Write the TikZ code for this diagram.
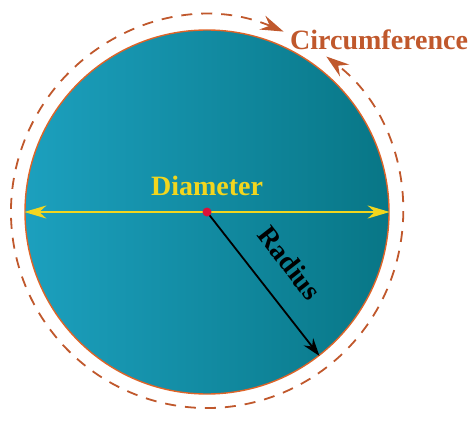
\documentclass[tikz,border=0pt]{standalone}
\usepackage{fontspec}
\setmainfont{Liberation Serif}
\usepackage{tikz}
\usetikzlibrary{positioning,calc,arrows.meta}
\definecolor{discleft}{RGB}{28,160,190}
\definecolor{discright}{RGB}{8,118,134}
\definecolor{rimorange}{RGB}{222,100,40}
\definecolor{rustbrown}{RGB}{192,88,44}
\definecolor{diamyellow}{RGB}{242,214,30}
\definecolor{dotred}{RGB}{218,18,58}

\begin{document}
\begin{tikzpicture}[x=1pt,y=1pt,
		biglabel/.style={font=\fontsize{28}{30}\selectfont\bfseries,inner sep=0pt}]
		\useasboundingbox (0,0) rectangle (474,424);
		\coordinate (o) at (207,212);
		\node[circle,minimum size=364pt,inner sep=0pt,draw=rimorange,line width=1.4pt,left color=discleft,right color=discright] (disc) at (o) {};
		
		\draw[rustbrown,line width=1.8pt,dash pattern=on 11pt off 9pt,>={Stealth[length=23pt,width=15pt,inset=8pt]},<->] ($(o)+(67:196)$) arc[start angle=67,end angle=412.5,radius=196];
		\node[biglabel,text=rustbrown,anchor=base west] (circ) at (290,374) {Circumference};
		
		\draw[diamyellow,line width=2pt,>={Stealth[length=22pt,width=13pt,inset=7pt]},<->] (disc.west)--(disc.east);
		\node[biglabel,text=diamyellow,above=16pt of o] (diam) {Diameter};
		
		\draw[black,line width=1.8pt,-{Stealth[length=18pt,width=12pt,inset=6pt]}] (o)--(disc.-52.5) node[biglabel,midway,sloped,above=23pt] (rad) {Radius};
		\fill[dotred] (o) circle[radius=4.5pt];
	\end{tikzpicture}
\end{document}
